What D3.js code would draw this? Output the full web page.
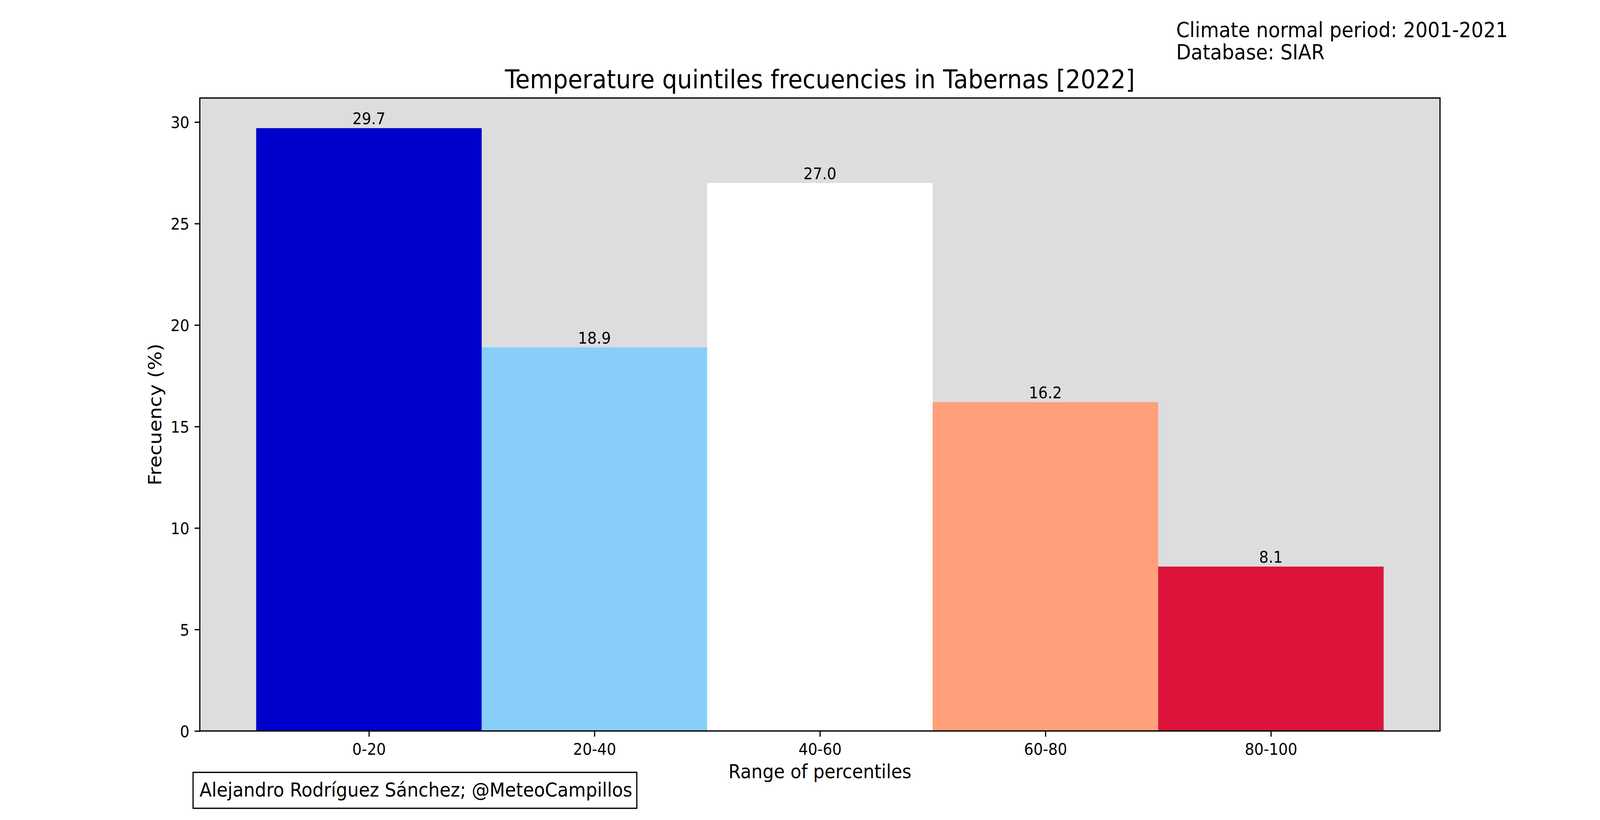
<!DOCTYPE html>
<html>
<head>
<meta charset="utf-8">
<script src="https://cdn.jsdelivr.net/npm/d3@7"></script>
<style>
  html, body { margin: 0; padding: 0; background: #fff; overflow: hidden; width: 100%; height: 100%; }
  svg { display: block; font-family: "DejaVu Sans", sans-serif; width: 100vw; height: 100vh; }
</style>
</head>
<body>
<svg id="chart" viewBox="0 0 4500 2100" preserveAspectRatio="none"></svg>
<script>
// ---- data ----
const categories = ["0-20", "20-40", "40-60", "60-80", "80-100"];
const frequencies = [29.7, 18.9, 27.0, 16.2, 8.1];
const barColors = ["#0000CD", "#87CEFA", "#FFFFFF", "#FFA07A", "#DC143C"];
const yTicks = [0, 5, 10, 15, 20, 25, 30];
const titleText = "Temperature quintiles frecuencies in Tabernas [2022]";
const noteLines = ["Climate normal period: 2001-2021", "Database: SIAR"];
const creditText = "Alejandro Rodríguez Sánchez; @MeteoCampillos";
const xLabel = "Range of percentiles";
const yLabel = "Frecuency (%)";

// ---- layout ----
const svg = d3.select("#chart");
const axLeft = 562, axRight = 4050, axTop = 251, axBottom = 1872;
const tickLen = 14.6, tickPad = 14.6, lw = 3.33;

const x = d3.scaleLinear().domain([-0.75, categories.length - 1 + 0.75]).range([axLeft, axRight]);
const y = d3.scaleLinear().domain([0, d3.max(frequencies) * 1.05]).range([axBottom, axTop]);

// axes background
svg.append("rect").attr("x", axLeft).attr("y", axTop)
  .attr("width", axRight - axLeft).attr("height", axBottom - axTop).attr("fill", "#DDDDDD");

// bars
svg.selectAll("rect.bar").data(frequencies).join("rect")
  .attr("class", "bar")
  .attr("x", (d, i) => x(i - 0.5))
  .attr("width", (d, i) => x(i + 0.5) - x(i - 0.5))
  .attr("y", d => y(d))
  .attr("height", d => y(0) - y(d))
  .attr("fill", (d, i) => barColors[i]);

// bar labels
svg.selectAll("text.blabel").data(frequencies).join("text")
  .attr("class", "blabel")
  .attr("x", (d, i) => x(i))
  .attr("y", d => y(d) - 9.8)
  .attr("text-anchor", "middle")
  .attr("font-size", 41.7)
  .attr("fill", "#000")
  .text(d => d.toFixed(1));

// spines
svg.append("rect").attr("x", axLeft).attr("y", axTop)
  .attr("width", axRight - axLeft).attr("height", axBottom - axTop)
  .attr("fill", "none").attr("stroke", "#000").attr("stroke-width", lw);

// y axis
const yAxis = d3.axisLeft(y).tickValues(yTicks).tickFormat(d3.format("d"))
  .tickSize(tickLen).tickPadding(tickPad);
const gy = svg.append("g").attr("transform", `translate(${axLeft},0)`).call(yAxis);
gy.select(".domain").remove();
gy.selectAll(".tick line").attr("stroke", "#000").attr("stroke-width", lw);
gy.selectAll(".tick text").attr("font-size", 41.7).attr("font-family", "DejaVu Sans")
  .attr("fill", "#000").attr("dy", "0.36em");

// x axis
const xAxis = d3.axisBottom(x).tickValues(d3.range(categories.length))
  .tickFormat(i => categories[i]).tickSize(tickLen).tickPadding(tickPad);
const gx = svg.append("g").attr("transform", `translate(0,${axBottom})`).call(xAxis);
gx.select(".domain").remove();
gx.selectAll(".tick line").attr("stroke", "#000").attr("stroke-width", lw);
gx.selectAll(".tick text").attr("font-size", 41.7).attr("font-family", "DejaVu Sans")
  .attr("fill", "#000").attr("dy", "0.76em");

// axis labels
svg.append("text").attr("x", (axLeft + axRight) / 2).attr("y", 1993)
  .attr("text-anchor", "middle").attr("font-size", 50).text(xLabel);
svg.append("text")
  .attr("transform", `translate(454,${(axTop + axBottom) / 2}) rotate(-90)`)
  .attr("text-anchor", "middle").attr("font-size", 51).text(yLabel);

// title
svg.append("text").attr("x", (axLeft + axRight) / 2).attr("y", 226)
  .attr("text-anchor", "middle").attr("font-size", 66.5).text(titleText);

// note
svg.selectAll("text.note").data(noteLines).join("text")
  .attr("class", "note")
  .attr("x", 3308).attr("y", (d, i) => 95 + i * 57)
  .attr("font-size", 54).text(d => d);

// credit box
svg.append("rect").attr("x", 543).attr("y", 1978).attr("width", 1248).attr("height", 92)
  .attr("fill", "#fff").attr("stroke", "#000").attr("stroke-width", lw);
svg.append("text").attr("x", 561).attr("y", 2040).attr("font-size", 50.3).text(creditText);
</script>
</body>
</html>
